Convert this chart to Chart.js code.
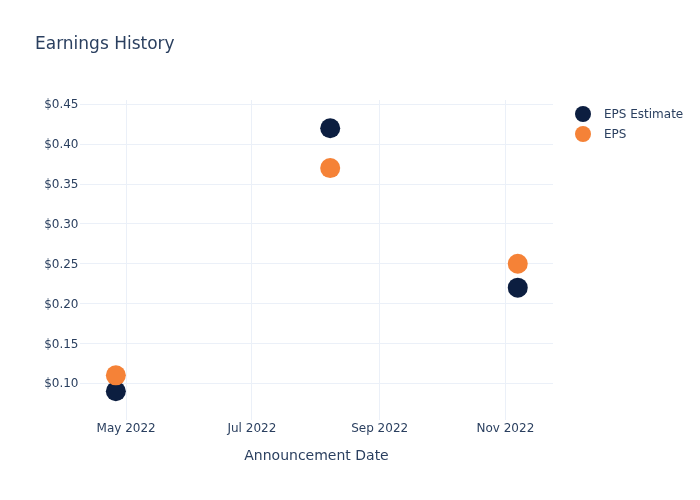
<!DOCTYPE html>
<html>
<head>
<meta charset="utf-8">
<title>Earnings History</title>
<script src="https://cdn.jsdelivr.net/npm/chart.js@4.4.1/dist/chart.umd.min.js"></script>
<style>
    html, body { margin: 0; padding: 0; background: #fff; }
    #chart { display: block; }
</style>
</head>
<body>
<canvas id="chart" width="700" height="500"></canvas>
<script>
// Data
const announceDates = ['2022-04-26', '2022-08-08', '2022-11-07'];
const epsEstimate = [0.09, 0.42, 0.22];
const epsActual = [0.11, 0.37, 0.25];

const xTickDates = ['2022-05-01', '2022-07-01', '2022-09-01', '2022-11-01'];
const xTickLabels = ['May 2022', 'Jul 2022', 'Sep 2022', 'Nov 2022'];
const yTickValues = [0.10, 0.15, 0.20, 0.25, 0.30, 0.35, 0.40, 0.45];

const seriesNames = ['EPS Estimate', 'EPS'];
const seriesColors = ['#0c1e40', '#f58237'];

const DAY = 86400000;
const textColor = '#2a3f5f';
const gridColor = '#ebf0f8';
const fontFamily = '"DejaVu Sans", Verdana, sans-serif';

const xTickValues = xTickDates.map(d => Date.parse(d));

function toPoints(values) {
    return values.map((v, i) => ({ x: Date.parse(announceDates[i]), y: v }));
}

// Title and legend drawn in Plotly's spots
const decorPlugin = {
    id: 'decor',
    afterDraw(chart) {
        const ctx = chart.ctx;
        ctx.save();
        ctx.fillStyle = textColor;
        ctx.textBaseline = 'middle';
        ctx.textAlign = 'left';
        ctx.font = '17px ' + fontFamily;
        ctx.fillText('Earnings History', 35, 45);

        ctx.font = '12px ' + fontFamily;
        seriesNames.forEach((name, i) => {
            const y = 114 + i * 20;
            ctx.beginPath();
            ctx.arc(583, y, 8, 0, Math.PI * 2);
            ctx.fillStyle = seriesColors[i];
            ctx.fill();
            ctx.fillStyle = textColor;
            ctx.fillText(name, 604, y + 1);
        });
        ctx.restore();
    }
};

const ctx = document.getElementById('chart').getContext('2d');
new Chart(ctx, {
    type: 'scatter',
    data: {
        datasets: [{
            label: seriesNames[0],
            data: toPoints(epsEstimate),
            backgroundColor: seriesColors[0],
            borderColor: seriesColors[0],
            borderWidth: 0,
            pointRadius: 10,
            order: 1
        }, {
            label: seriesNames[1],
            data: toPoints(epsActual),
            backgroundColor: seriesColors[1],
            borderColor: seriesColors[1],
            borderWidth: 0,
            pointRadius: 10,
            order: 0
        }]
    },
    options: {
        responsive: false,
        animation: false,
        clip: false,
        layout: {
            padding: { top: 100, right: 147, bottom: 0, left: 0 }
        },
        scales: {
            x: {
                type: 'linear',
                min: Date.parse('2022-04-08') + 0.6 * DAY,
                max: Date.parse('2022-11-24') + 0.1 * DAY,
                afterBuildTicks: function(scale) {
                    scale.ticks = xTickValues.map(v => ({ value: v }));
                },
                afterFit: function(scale) {
                    scale.height = 80;
                },
                ticks: {
                    color: textColor,
                    padding: 2,
                    maxRotation: 0,
                    autoSkip: false,
                    font: { family: fontFamily, size: 12 },
                    callback: function(value) {
                        const i = xTickValues.indexOf(value);
                        return i >= 0 ? xTickLabels[i] : '';
                    }
                },
                grid: {
                    color: gridColor,
                    drawTicks: false
                },
                border: { display: false },
                title: {
                    display: true,
                    text: 'Announcement Date',
                    color: textColor,
                    font: { family: fontFamily, size: 14 },
                    padding: { top: 0, bottom: 35 }
                }
            },
            y: {
                min: 0.054,
                max: 0.4554,
                afterBuildTicks: function(scale) {
                    scale.ticks = yTickValues.map(v => ({ value: v }));
                },
                afterFit: function(scale) {
                    scale.width = 80;
                },
                ticks: {
                    color: textColor,
                    padding: 1.5,
                    labelOffset: 1,
                    font: { family: fontFamily, size: 12 },
                    callback: function(value) {
                        return '$' + value.toFixed(2);
                    }
                },
                grid: {
                    color: gridColor,
                    drawTicks: false
                },
                border: { display: false }
            }
        },
        plugins: {
            legend: { display: false },
            title: { display: false },
            tooltip: { enabled: false }
        }
    },
    plugins: [decorPlugin]
});
</script>
</body>
</html>
